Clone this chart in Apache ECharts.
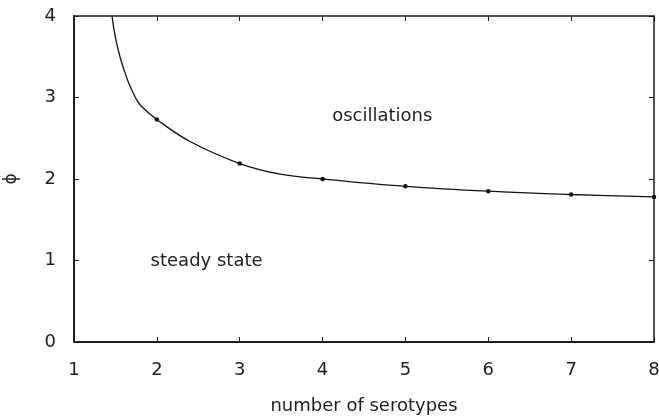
<!DOCTYPE html>
<html>
<head>
<meta charset="utf-8">
<script src="https://cdn.jsdelivr.net/npm/echarts@6/dist/echarts.min.js"></script>
<style>
  html, body { margin: 0; padding: 0; background: #fff; }
  #chart { width: 659px; height: 417px; }
</style>
</head>
<body>
<div id="chart"></div>
<script>
// boundary curve
const curveX = [1.459, 1.483, 1.515, 1.555, 1.603, 1.664, 1.736, 1.81, 2.0, 2.4, 3.0, 3.49, 4, 5, 6, 7, 8];
const curveY = [4.0, 3.83, 3.665, 3.50, 3.34, 3.17, 3.01, 2.895, 2.73, 2.46, 2.19, 2.06, 2.0, 1.91, 1.85, 1.81, 1.78];
// computed points (dots)
const serotypes = [2, 3, 4, 5, 6, 7, 8];
const phiValues = [2.73, 2.19, 2.0, 1.91, 1.85, 1.81, 1.78];
// region labels
const regionNames = ['oscillations', 'steady state'];
const regionX = [4.72, 2.60];
const regionY = [2.77, 0.99];

const ink = '#1e1e1e';
const font = 'DejaVu Sans, sans-serif';

const chart = echarts.init(document.getElementById('chart'), null, { renderer: 'canvas' });

const axisCommon = {
  type: 'value',
  splitLine: { show: false },
  axisLine: { show: true, onZero: false, lineStyle: { color: ink, width: 2 } },
  axisTick: { show: true, inside: true, length: 5, lineStyle: { color: ink, width: 1 } }
};

chart.setOption({
  animation: false,
  grid: { left: 74, right: 5, top: 16, bottom: 75, containLabel: false, outerBoundsMode: 'none' },
  xAxis: [{
    ...axisCommon,
    min: 1, max: 8, interval: 1,
    name: 'number of serotypes',
    nameLocation: 'middle',
    nameGap: 55,
    nameTextStyle: { color: ink, fontSize: 18, fontFamily: font },
    axisLabel: { color: ink, fontSize: 18, fontFamily: font, margin: 19 }
  }, {
    ...axisCommon,
    position: 'top',
    min: 1, max: 8, interval: 1,
    axisLine: { show: true, onZero: false, lineStyle: { color: ink, width: 1.5 } },
    axisLabel: { show: false }
  }],
  yAxis: [{
    ...axisCommon,
    min: 0, max: 4, interval: 1,
    name: 'ϕ',
    nameLocation: 'middle',
    nameGap: 54,
    nameRotate: 90,
    nameTextStyle: { color: ink, fontSize: 17, fontFamily: font },
    axisLabel: { color: ink, fontSize: 18, fontFamily: font, margin: 18 }
  }, {
    ...axisCommon,
    position: 'right',
    min: 0, max: 4, interval: 1,
    axisLine: { show: true, onZero: false, lineStyle: { color: ink, width: 1.5 } },
    axisLabel: { show: false }
  }],
  series: [{
    type: 'line',
    data: curveX.map((x, i) => [x, curveY[i]]),
    smooth: 0.4,
    showSymbol: false,
    symbol: 'none',
    lineStyle: { color: '#111', width: 1.3 },
    clip: true
  }, {
    type: 'scatter',
    data: serotypes.map((x, i) => [x, phiValues[i]]),
    symbolSize: 4.5,
    itemStyle: { color: '#111', opacity: 1 },
    clip: false
  }, {
    type: 'scatter',
    data: regionNames.map((n, i) => ({ name: n, value: [regionX[i], regionY[i]] })),
    symbolSize: 0,
    itemStyle: { opacity: 1 },
    label: {
      show: true,
      position: 'inside',
      formatter: p => p.name,
      color: ink,
      fontSize: 18,
      fontFamily: font
    }
  }]
});

window.addEventListener('resize', () => chart.resize());
</script>
</body>
</html>
